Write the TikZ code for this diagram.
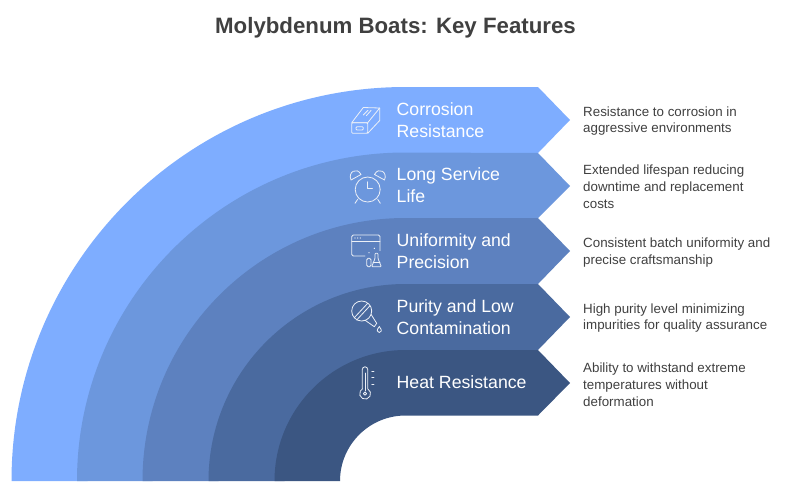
\documentclass[tikz,border=0pt]{standalone}
\usepackage{fontspec}
\setmainfont{Liberation Sans}
\definecolor{bandA}{HTML}{7EADFF}
\definecolor{bandB}{HTML}{6C97DD}
\definecolor{bandC}{HTML}{5D81BF}
\definecolor{bandD}{HTML}{4A6A9F}
\definecolor{bandE}{HTML}{3B5682}
\definecolor{inkgray}{HTML}{404040}
\begin{document}
\begin{tikzpicture}[
  x=1pt, y=-1pt,
  heading/.style={font=\bfseries\fontsize{22.25}{27}\selectfont, text=inkgray, inner sep=0pt},
  feature/.style={anchor=west, align=left, inner sep=0pt, text=white, font=\fontsize{17.7}{22}\selectfont},
  detail/.style={anchor=west, align=left, inner sep=0pt, text=inkgray, font=\fontsize{13.35}{16.9}\selectfont},
  icon/.style={draw=white!88!bandC, line width=0.8pt, line cap=round, line join=round}
]
  \useasboundingbox (0,0) rectangle (800,493);
  % Bands, outermost first, each one slipping under the next
  \fill[bandA] (11.5,481) arc (180:90:394pt) -- (538,87) -- (570,120) -- (538,153) -- (405.5,153) -- (405.5,163) arc (90:180:318pt) -- cycle;
  \fill[bandB] (77,481) arc (180:90:328.5pt) -- (538,153) -- (570,186) -- (538,218) -- (405.5,218) -- (405.5,228) arc (90:180:253pt) -- cycle;
  \fill[bandC] (142.5,481) arc (180:90:263pt) -- (538,218) -- (570,251) -- (538,284) -- (405.5,284) -- (405.5,294) arc (90:180:187pt) -- cycle;
  \fill[bandD] (208.5,481) arc (180:90:197pt) -- (538,284) -- (570,317) -- (538,350) -- (405.5,350) -- (405.5,360) arc (90:180:121pt) -- cycle;
  \fill[bandE] (274.5,481) arc (180:90:131pt) -- (538,350) -- (570,383) -- (538,415.5) -- (405.5,415.5) arc (90:180:65.5pt) -- cycle;
  % Title and labels
  \node[heading] (title) at (395.5,27.5) {Molybdenum Boats: Key Features};
  \node[feature] (corrosion) at (396.5,120) {Corrosion\\Resistance};
  \node[feature] (service) at (396.5,185.5) {Long Service\\Life};
  \node[feature] (uniform) at (396.5,251) {Uniformity and\\Precision};
  \node[feature] (purity) at (396.5,317) {Purity and Low\\Contamination};
  \node[feature] (heat) at (396.5,382.5) {Heat Resistance};
  \node[detail] (corrosiontext) at (583,121) {Resistance to corrosion in\\aggressive environments};
  \node[detail] (servicetext) at (583,186.5) {Extended lifespan reducing\\downtime and replacement\\costs};
  \node[detail] (uniformtext) at (583,252.5) {Consistent batch uniformity and\\precise craftsmanship};
  \node[detail] (puritytext) at (583,318) {High purity level minimizing\\impurities for quality assurance};
  \node[detail] (heattext) at (583,384.5) {Ability to withstand extreme\\temperatures without\\deformation};
  % Boat icon
  \draw[icon] (351.7,122.7) -- (363.3,107.5) -- (379.7,108) -- (367.7,122.7) -- cycle;
  \draw[icon, rounded corners=1pt] (351.7,122.7) rectangle (367.7,133.3);
  \draw[icon] (379.7,108) -- (379.7,120.5) -- (367.7,133.3);
  \draw[icon, rounded corners=1pt] (356,126.7) rectangle (363.3,130);
  \draw[icon] (363.3,115) -- (368,110.3) (366.5,115.5) -- (371,110.5);
  % Clock icon
  \draw[icon] (367.7,189.5) circle (12.5pt);
  \draw[icon] (367.7,181.7) -- (367.7,188.3) -- (372.5,188.3);
  \draw[icon] (351,180) .. controls (347.5,172) and (357,166.5) .. (361,174.5) -- cycle;
  \draw[icon] (384.5,180) .. controls (388,172) and (378.5,166.5) .. (374.5,174.5) -- cycle;
  \draw[icon] (357.7,199.3) -- (355,203.3) (377.7,199.3) -- (380.3,203.3);
  % Window and flask icon
  \draw[icon, rounded corners=1.5pt] (380,250.7) -- (380,235) -- (351.7,235) -- (351.7,256) -- (365,256);
  \draw[icon] (351.7,241) -- (380,241);
  \fill[white] (355,238) circle (0.6pt) (357.7,238) circle (0.6pt) (360.3,238) circle (0.6pt) (374.3,248.3) circle (0.7pt) (369,252.7) circle (0.7pt);
  \draw[icon, rounded corners=1.5pt] (366.7,258.3) -- (366.7,266.7) -- (371,266.7) -- (371,258.3) -- cycle;
  \draw[icon, rounded corners=0.8pt] (375,253.3) -- (375,258.5) -- (371.7,266.7) -- (381.3,266.7) -- (378,258.5) -- (378,253.3) -- cycle;
  \draw[icon] (373,262.7) -- (380,262.7);
  % Funnel icon
  \draw[icon] (365,320.2) -- (374.3,326.7) -- (376.7,323.3) -- (371,314.3);
  \draw[icon] (361.7,311) circle (10pt);
  \draw[icon] (354.3,317.7) -- (367.7,303.3) (356.7,320) -- (370,305.7);
  \draw[icon] (379.3,326.5) .. controls (377.5,329) and (377,330) .. (377.3,331) .. controls (377.8,333) and (380.8,333) .. (381.3,331) .. controls (381.6,330) and (381,329) .. (379.3,326.5) -- cycle;
  % Thermometer icon
  \draw[icon] (362.3,388.8) -- (362.3,369.5) arc (180:0:2.7pt) -- (367.7,388.8) arc (62:-242:5.5pt) -- cycle;
  \draw[icon] (365,373) -- (365,391);
  \draw[icon] (365,393.6) circle (1.6pt);
  \draw[icon] (371.7,371) -- (374,371) (371.7,377.7) -- (374,377.7) (371.7,384.3) -- (374,384.3);
\end{tikzpicture}
\end{document}
